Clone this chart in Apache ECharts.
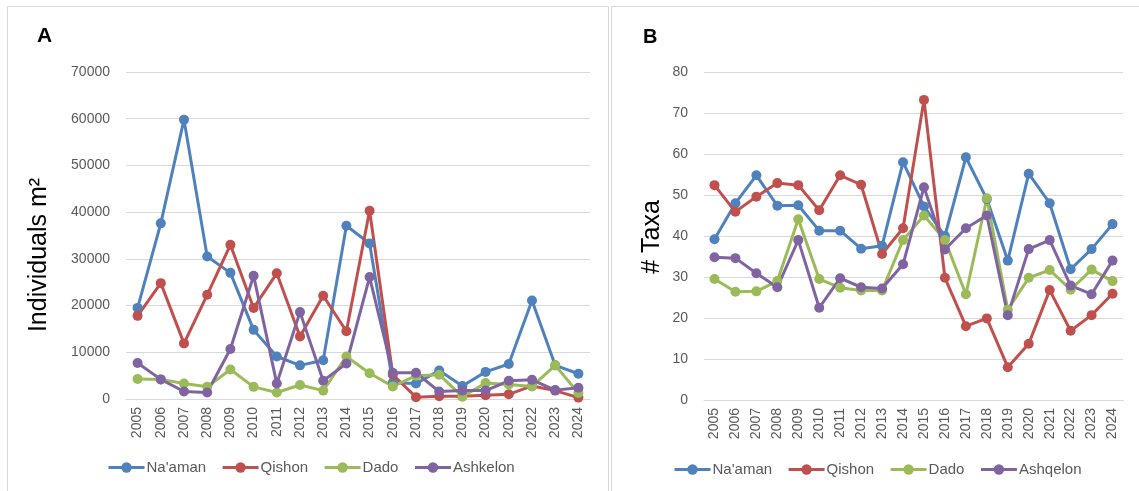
<!DOCTYPE html>
<html>
<head>
<meta charset="utf-8">
<script src="https://cdn.jsdelivr.net/npm/echarts@6/dist/echarts.min.js"></script>
<style>
html,body{margin:0;padding:0;background:#fff;}
#c{width:1139px;height:491px;}
</style>
</head>
<body>
<div id="c"></div>
<script>
const years = ['2005','2006','2007','2008','2009','2010','2011','2012','2013','2014','2015','2016','2017','2018','2019','2020','2021','2022','2023','2024'];

// Panel A: Individuals m²
const naamanA   = [19500, 37600, 59800, 30500, 27000, 14800, 9100, 7200, 8300, 37100, 33300, 3500, 3300, 6100, 2800, 5800, 7500, 21100, 7200, 5400];
const qishonA   = [17800, 24800, 11900, 22300, 33000, 19500, 26900, 13400, 22100, 14500, 40300, 5200, 400, 600, 600, 800, 1000, 2800, 1800, 300];
const dadoA     = [4300, 4200, 3300, 2600, 6300, 2600, 1400, 3000, 1800, 9100, 5500, 2700, 5000, 5200, 500, 3400, 3100, 2700, 7200, 1300];
const ashkelonA = [7700, 4200, 1600, 1400, 10700, 26400, 3300, 18600, 3900, 7600, 26100, 5600, 5600, 1600, 1800, 1800, 3900, 4100, 1900, 2400];

// Panel B: # Taxa
const naamanB   = [39.2, 48.0, 54.8, 47.4, 47.5, 41.3, 41.3, 36.9, 37.6, 58.0, 47.2, 40.0, 59.2, 49.0, 34.0, 55.2, 48.0, 31.9, 36.8, 42.9];
const qishonB   = [52.4, 45.9, 49.6, 52.9, 52.4, 46.3, 54.8, 52.5, 35.6, 41.9, 73.2, 29.8, 18.0, 19.9, 8.0, 13.7, 26.8, 16.9, 20.7, 25.9];
const dadoB     = [29.5, 26.4, 26.5, 29.0, 44.1, 29.5, 27.4, 26.7, 26.7, 39.0, 45.0, 39.0, 25.8, 49.2, 22.0, 29.8, 31.7, 26.9, 31.8, 29.0];
const ashqelonB = [34.8, 34.6, 30.9, 27.5, 39.0, 22.5, 29.7, 27.5, 27.2, 33.1, 51.9, 36.7, 41.9, 45.0, 20.7, 36.8, 39.0, 27.9, 25.8, 34.0];

const namesA = ["Na'aman", 'Qishon', 'Dado', 'Ashkelon'];
const namesB = ["Na'aman", 'Qishon', 'Dado', 'Ashqelon'];
const colors = ['#4F81BD', '#C0504D', '#9BBB59', '#8064A2'];

const FONT = 'Liberation Sans';
const GRAY = '#595959';
const GRID = '#d9d9d9';

function mkSeries(name, data, idx, color) {
  return {
    type: 'line', name: name, data: data,
    xAxisIndex: idx, yAxisIndex: idx,
    symbol: 'circle', symbolSize: 10,
    lineStyle: { width: 3, color: color },
    itemStyle: { color: color },
    animation: false
  };
}

const dataA = [naamanA, qishonA, dadoA, ashkelonA];
const dataB = [naamanB, qishonB, dadoB, ashqelonB];
const series = [];
for (let i = 0; i < 4; i++) series.push(mkSeries(namesA[i], dataA[i], 0, colors[i]));
for (let i = 0; i < 4; i++) series.push(mkSeries(namesB[i], dataB[i], 1, colors[i]));

function xAx(idx) {
  return {
    type: 'category', gridIndex: idx, data: years, boundaryGap: true,
    axisLine: { show: true, lineStyle: { color: GRID, width: 1 } },
    axisTick: { show: false },
    axisLabel: { rotate: 90, margin: 8, fontSize: 14, color: GRAY, fontFamily: FONT, interval: 0 }
  };
}
function yAx(idx, max, interval) {
  return {
    type: 'value', gridIndex: idx, min: 0, max: max, interval: interval,
    axisLine: { show: false }, axisTick: { show: false },
    splitLine: { show: true, lineStyle: { color: GRID, width: 1 } },
    axisLabel: { margin: 16, fontSize: 14, color: GRAY, fontFamily: FONT, formatter: function (v) { return String(v); } }
  };
}

const legendCommon = {
  itemWidth: 36, itemHeight: 13, itemGap: 15, padding: 0,
  textStyle: { fontSize: 15, color: GRAY, fontFamily: FONT, padding: [0, 0, 0, -3] },
  lineStyle: { width: 3 },
  selectedMode: false
};

const chart = echarts.init(document.getElementById('c'), null, { renderer: 'canvas' });
chart.setOption({
  animation: false,
  color: colors,
  textStyle: { fontFamily: FONT },
  grid: [
    { left: 126, top: 72, width: 464, height: 327 },
    { left: 704, top: 72, width: 419, height: 328 }
  ],
  xAxis: [xAx(0), xAx(1)],
  yAxis: [yAx(0, 70000, 10000), yAx(1, 80, 10)],
  legend: [
    Object.assign({ data: namesA, left: 107, top: 460 }, legendCommon),
    Object.assign({ data: namesB, left: 673, top: 462 }, legendCommon)
  ],
  graphic: [
    { type: 'rect', shape: { x: 7.5, y: 6.5, width: 601, height: 500 }, style: { fill: 'none', stroke: GRID, lineWidth: 1 }, silent: true, z: -1 },
    { type: 'rect', shape: { x: 611.5, y: 6.5, width: 600, height: 500 }, style: { fill: 'none', stroke: GRID, lineWidth: 1 }, silent: true, z: -1 },
    { type: 'text', x: 37, y: 26, style: { text: 'A', font: 'bold 21px "Liberation Sans"', fill: '#000' } },
    { type: 'text', x: 643, y: 27, style: { text: 'B', font: 'bold 20px "Liberation Sans"', fill: '#000' } },
    { type: 'text', x: 39, y: 255, rotation: Math.PI / 2,
      style: { text: 'Individuals m²', font: '25px "Liberation Sans"', fill: '#000', align: 'center', verticalAlign: 'middle' } },
    { type: 'text', x: 652, y: 237, rotation: Math.PI / 2,
      style: { text: '# Taxa', font: '25px "Liberation Sans"', fill: '#000', align: 'center', verticalAlign: 'middle' } }
  ],
  series: series
});
</script>
</body>
</html>
